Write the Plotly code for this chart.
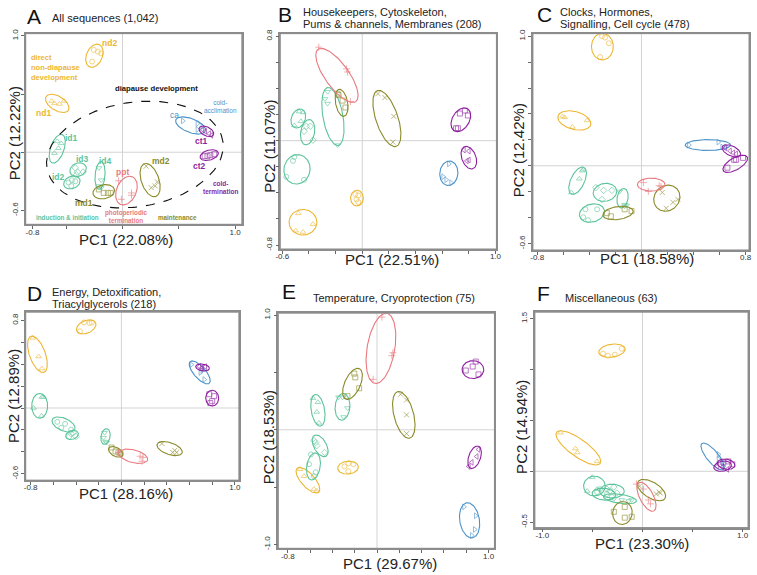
import numpy as np
import plotly.graph_objects as go

FONT = "Liberation Sans, Arial, sans-serif"
W, H = 757, 575

groups = ["nd1", "nd2", "id1", "id2", "id3", "id4", "md1", "md2", "ppt", "ca", "ct1", "ct2"]
group_colors = ["#EDB632", "#EDB632", "#5CC49B", "#5CC49B", "#5CC49B", "#5CC49B",
                "#8A8A2A", "#8A8A2A", "#E8797E", "#4B93CA", "#8E1F9F", "#8E1F9F"]
group_symbols = ["triangle-up-open", "circle-open", "triangle-up-open", "circle-open",
                 "diamond-open", "triangle-down-open", "square-open", "x-thin-open",
                 "cross-thin-open", "triangle-right-open", "triangle-left-open", "square-open"]

panels = ["A", "B", "C", "D", "E", "F"]
panel_titles = [["All sequences (1,042)"],
                ["Housekeepers, Cytoskeleton,", "Pums & channels, Membranes (208)"],
                ["Clocks, Hormones,", "Signalling, Cell cycle (478)"],
                ["Energy, Detoxification,", "Triacylglycerols (218)"],
                ["Temperature, Cryoprotection (75)"],
                ["Miscellaneous (63)"]]
pc1_labels = ["PC1 (22.08%)", "PC1 (22.51%)", "PC1 (18.58%)", "PC1 (28.16%)", "PC1 (29.67%)", "PC1 (23.30%)"]
pc2_labels = ["PC2 (12.22%)", "PC2 (11.07%)", "PC2 (12.42%)", "PC2 (12.89%)", "PC2 (18.53%)", "PC2 (14.94%)"]

# axis ranges and ticks
x_ranges = [[-0.86, 1.06], [-0.615, 1.007], [-0.833, 0.826], [-0.843, 1.035], [-0.885, 1.053], [-1.074, 1.054]]
y_ranges = [[-0.62, 1.02], [-0.83, 0.82], [-0.65, 1.02], [-0.658, 0.874], [-1.034, 1.017], [-0.553, 1.563]]
x_ticks = [[-0.8, -0.5, 0, 0.5, 1.0], np.arange(-0.6, 1.01, 0.2), np.arange(-0.8, 0.81, 0.2),
           np.arange(-0.8, 1.01, 0.2), np.arange(-0.8, 1.01, 0.2), np.arange(-1.0, 1.01, 0.5)]
y_ticks = [[-0.5, 0, 0.5, 1.0], np.arange(-0.8, 0.81, 0.2), np.arange(-0.6, 1.01, 0.2),
           np.arange(-0.6, 0.81, 0.2), np.arange(-1.0, 1.01, 0.5), np.arange(-0.5, 1.51, 0.5)]
x_end_labels = [["-0.8", "1.0"], ["-0.6", "1.0"], ["-0.8", "0.8"], ["-0.8", "1.0"], ["-0.8", "1.0"], ["-1.0", "1.0"]]
y_end_labels = [["-0.6", "1.0"], ["-0.8", "0.8"], ["-0.6", "1.0"], ["-0.6", "0.8"], ["-1.0", "1.0"], ["-0.5", "1.5"]]

# group ellipses: (cx, cy, semi-axis a, semi-axis b, angle deg), in group order
ell_A = [(-0.58, 0.42, 0.115, 0.062, -30), (-0.25, 0.83, 0.105, 0.07, 65), (-0.58, 0.03, 0.13, 0.06, 70),
         (-0.45, -0.26, 0.075, 0.053, 20), (-0.395, -0.15, 0.075, 0.057, 20), (-0.20, -0.20, 0.12, 0.044, 85),
         (-0.167, -0.34, 0.097, 0.06, 10), (0.245, -0.24, 0.15, 0.078, -70), (0.035, -0.33, 0.13, 0.087, 65),
         (0.605, 0.23, 0.14, 0.06, -20), (0.745, 0.18, 0.07, 0.038, -25), (0.77, -0.025, 0.083, 0.043, 15)]
ell_B = [(-0.445, -0.625, 0.104, 0.098, 0), (-0.04, -0.44, 0.06, 0.048, 90), (-0.48, 0.17, 0.075, 0.052, 70),
         (-0.49, -0.22, 0.113, 0.098, 80), (-0.41, 0.065, 0.098, 0.052, 80), (-0.22, 0.185, 0.225, 0.075, -80),
         (-0.155, 0.29, 0.105, 0.045, -80), (0.185, 0.17, 0.225, 0.083, -72), (-0.19, 0.50, 0.245, 0.09, -55),
         (0.65, -0.25, 0.094, 0.068, 85), (0.80, -0.13, 0.09, 0.053, -70), (0.74, 0.16, 0.098, 0.064, 60)]
ell_C = [(-0.515, 0.35, 0.13, 0.069, -15), (-0.30, 0.92, 0.103, 0.084, 90), (-0.49, -0.115, 0.114, 0.053, 65),
         (-0.38, -0.365, 0.098, 0.069, 15), (-0.28, -0.205, 0.091, 0.069, 10), (-0.145, -0.25, 0.076, 0.042, 80),
         (-0.18, -0.365, 0.117, 0.05, 8), (0.195, -0.25, 0.106, 0.095, 45), (0.075, -0.145, 0.106, 0.05, 0),
         (0.51, 0.16, 0.174, 0.042, 0), (0.69, 0.115, 0.076, 0.038, -25), (0.72, 0.015, 0.106, 0.046, 30)]
ell_D = [(-0.74, 0.49, 0.174, 0.07, -71), (-0.31, 0.74, 0.091, 0.057, 25), (-0.72, 0.02, 0.113, 0.07, 90),
         (-0.51, -0.15, 0.109, 0.057, -25), (-0.435, -0.245, 0.057, 0.04, 20), (-0.14, -0.26, 0.072, 0.04, 80),
         (-0.05, -0.40, 0.07, 0.04, -30), (0.425, -0.37, 0.117, 0.054, -20), (0.105, -0.44, 0.13, 0.058, -15),
         (0.69, 0.325, 0.13, 0.052, -50), (0.715, 0.37, 0.061, 0.031, -10), (0.80, 0.09, 0.072, 0.057, 90)]
ell_E = [(-0.62, -0.44, 0.142, 0.06, -47), (-0.26, -0.33, 0.093, 0.056, 5), (-0.53, 0.17, 0.14, 0.06, -80),
         (-0.57, -0.32, 0.12, 0.06, 80), (-0.51, -0.14, 0.105, 0.056, -60), (-0.31, 0.20, 0.117, 0.066, 85),
         (-0.22, 0.40, 0.147, 0.07, 65), (0.24, 0.13, 0.21, 0.088, -75), (0.035, 0.71, 0.31, 0.124, 80),
         (0.83, -0.79, 0.155, 0.088, -80), (0.875, -0.24, 0.103, 0.053, 70), (0.86, 0.525, 0.097, 0.078, 0)]
ell_F = [(-0.64, 0.23, 0.266, 0.087, -35), (-0.305, 1.185, 0.133, 0.063, 8), (-0.48, -0.145, 0.108, 0.097, 0),
         (-0.385, -0.225, 0.118, 0.058, -5), (-0.305, -0.195, 0.123, 0.068, 0), (-0.225, -0.27, 0.167, 0.044, -8),
         (-0.20, -0.41, 0.113, 0.097, 80), (0.09, -0.185, 0.158, 0.078, -31), (0.04, -0.25, 0.158, 0.068, -62),
         (0.70, 0.145, 0.167, 0.058, -50), (0.80, 0.05, 0.089, 0.049, 10), (0.835, 0.07, 0.089, 0.049, -10)]

# replicate samples per group: (x list, y list)
pts_A = [([-0.63, -0.605, -0.56, -0.52], [0.44, 0.42, 0.415, 0.44]),
         ([-0.255, -0.22, -0.19, -0.27], [0.88, 0.865, 0.85, 0.78]),
         ([-0.58, -0.57, -0.605, -0.545], [0.093, 0.034, -0.008, 0.076]),
         ([-0.48, -0.45, -0.42, -0.455], [-0.26, -0.24, -0.25, -0.29]),
         ([-0.42, -0.40, -0.35, -0.41], [-0.135, -0.17, -0.17, -0.195]),
         ([-0.21, -0.19, -0.21, -0.19], [-0.135, -0.24, -0.29, -0.305]),
         ([-0.21, -0.167, -0.13, -0.105], [-0.32, -0.35, -0.35, -0.35]),
         ([0.21, 0.255, 0.29, 0.31], [-0.12, -0.305, -0.29, -0.255]),
         ([-0.035, -0.01, 0.08, 0.08], [-0.245, -0.405, -0.35, -0.37]),
         ([0.535, 0.665, 0.71, 0.665], [0.27, 0.245, 0.22, 0.195]),
         ([0.71, 0.735, 0.77, 0.79], [0.195, 0.18, 0.16, 0.145]),
         ([0.73, 0.755, 0.78, 0.815], [-0.034, -0.034, -0.025, -0.017])]
pts_B = [([-0.48, -0.37, -0.50, -0.445], [-0.557, -0.64, -0.69, -0.70]),
         ([-0.052, -0.03, -0.044, -0.03], [-0.41, -0.42, -0.45, -0.47]),
         ([-0.474, -0.444, -0.51, -0.46], [0.223, 0.216, 0.117, 0.148]),
         ([-0.51, -0.52, -0.57, -0.437], [-0.125, -0.155, -0.277, -0.30]),
         ([-0.42, -0.39, -0.37, -0.437], [0.11, 0.11, 0.004, 0.072]),
         ([-0.26, -0.28, -0.26, -0.185], [0.375, 0.32, 0.284, -0.034]),
         ([-0.185, -0.178, -0.126, -0.148], [0.36, 0.35, 0.254, 0.307]),
         ([0.118, 0.17, 0.237, 0.23], [0.36, 0.33, 0.186, -0.011]),
         ([-0.326, -0.118, -0.11, -0.089], [0.716, 0.55, 0.526, 0.30]),
         ([0.65, 0.607, 0.667, 0.63], [-0.178, -0.276, -0.322, -0.30]),
         ([0.763, 0.80, 0.80, 0.785], [-0.072, -0.08, -0.148, -0.155]),
         ([0.733, 0.77, 0.793, 0.718, 0.704], [0.208, 0.231, 0.193, 0.095, 0.095])]
pts_C = [([-0.606, -0.417, -0.53, -0.59], [0.38, 0.35, 0.30, 0.374]),
         ([-0.303, -0.28, -0.25, -0.318], [1.0, 0.99, 0.946, 0.84]),
         ([-0.447, -0.455, -0.477, -0.538], [-0.03, -0.038, -0.10, -0.206]),
         ([-0.43, -0.34, -0.41, -0.447], [-0.336, -0.336, -0.42, -0.397]),
         ([-0.35, -0.29, -0.227, -0.303], [-0.168, -0.19, -0.19, -0.26]),
         ([-0.167, -0.129, -0.114, -0.129], [-0.198, -0.30, -0.305, -0.313]),
         ([-0.265, -0.235, -0.129, -0.076], [-0.366, -0.39, -0.336, -0.35]),
         ([0.16, 0.19, 0.242, 0.28], [-0.206, -0.328, -0.282, -0.26]),
         ([0.015, 0.053, 0.136, 0.15], [-0.13, -0.198, -0.153, -0.16]),
         ([0.364, 0.59, 0.62, 0.65], [0.16, 0.183, 0.145, 0.145]),
         ([0.644, 0.68, 0.705, 0.727], [0.137, 0.115, 0.10, 0.092]),
         ([0.66, 0.712, 0.727, 0.78], [-0.015, 0.046, 0.046, 0.061])]
pts_D = [([-0.78, -0.73, -0.70], [0.64, 0.47, 0.36]),
         ([-0.33, -0.28, -0.365, -0.26], [0.78, 0.775, 0.70, 0.78]),
         ([-0.70, -0.774, -0.704, -0.687], [0.10, 0.0, -0.072, 0.10]),
         ([-0.565, -0.496, -0.53, -0.443], [-0.126, -0.144, -0.18, -0.198]),
         ([-0.443, -0.426, -0.40, -0.46], [-0.234, -0.225, -0.26, -0.26]),
         ([-0.148, -0.157, -0.139, -0.13], [-0.225, -0.27, -0.306, -0.315]),
         ([-0.087, -0.052, -0.026, -0.009], [-0.36, -0.396, -0.405, -0.414]),
         ([0.357, 0.47, 0.487, 0.452], [-0.324, -0.387, -0.405, -0.405]),
         ([-0.026, 0.165, 0.19, 0.183], [-0.405, -0.44, -0.45, -0.486]),
         ([0.617, 0.696, 0.73, 0.713], [0.396, 0.324, 0.26, 0.342]),
         ([0.687, 0.713, 0.739, 0.704], [0.378, 0.37, 0.378, 0.36]),
         ([0.774, 0.817, 0.80, 0.783], [0.126, 0.108, 0.063, 0.045])]
pts_E = [([-0.69, -0.655, -0.54, -0.566], [-0.345, -0.405, -0.534, -0.517]),
         ([-0.292, -0.257, -0.212, -0.257], [-0.32, -0.293, -0.30, -0.362]),
         ([-0.575, -0.53, -0.54, -0.522], [0.276, 0.24, 0.155, 0.06]),
         ([-0.593, -0.61, -0.55, -0.566], [-0.215, -0.30, -0.37, -0.405]),
         ([-0.566, -0.55, -0.54, -0.47], [-0.095, -0.112, -0.138, -0.198]),
         ([-0.345, -0.31, -0.30, -0.265], [0.284, 0.284, 0.112, 0.19]),
         ([-0.204, -0.195, -0.16, -0.265], [0.49, 0.457, 0.362, 0.293]),
         ([0.212, 0.265, 0.265, 0.265], [0.31, 0.26, 0.13, -0.034]),
         ([0.044, 0.142, 0.133, -0.035], [0.983, 0.672, 0.647, 0.44]),
         ([0.78, 0.885, 0.876, 0.85], [-0.672, -0.75, -0.87, -0.922]),
         ([0.823, 0.85, 0.894, 0.91], [-0.32, -0.284, -0.233, -0.172]),
         ([0.796, 0.858, 0.885, 0.91], [0.517, 0.552, 0.595, 0.483])]
pts_F = [([-0.818, -0.67, -0.65, -0.453], [0.379, 0.223, 0.184, 0.097]),
         ([-0.394, -0.345, -0.276, -0.207], [1.155, 1.136, 1.146, 1.204]),
         ([-0.502, -0.552, -0.453], [-0.058, -0.194, -0.175]),
         ([-0.453, -0.424, -0.355, -0.305], [-0.204, -0.175, -0.223, -0.252]),
         ([-0.355, -0.286, -0.256, -0.325], [-0.175, -0.155, -0.214, -0.194]),
         ([-0.286, -0.207, -0.138, -0.108], [-0.272, -0.282, -0.291, -0.282]),
         ([-0.286, -0.177, -0.177, -0.108], [-0.398, -0.35, -0.456, -0.447]),
         ([-0.03, 0.138, 0.177, 0.167], [-0.146, -0.223, -0.214, -0.204]),
         ([-0.06, 0.059, 0.079, 0.01], [-0.126, -0.282, -0.32, -0.175]),
         ([0.759, 0.759, 0.808, 0.798], [0.165, 0.117, 0.049, 0.087]),
         ([0.749, 0.798, 0.847], [0.049, 0.039, 0.019]),
         ([0.808, 0.857, 0.897], [0.087, 0.097, 0.068])]

ellipses = [ell_A, ell_B, ell_C, ell_D, ell_E, ell_F]
points = [pts_A, pts_B, pts_C, pts_D, pts_E, pts_F]

# diapause development envelope in panel A
diapause_ell = (0.11, -0.02, 0.79, 0.45, 8)

# panel A group labels: text, x, y, color, size, bold
labels_A = [
    ("nd2", -0.12, 0.94, "#EDB632", 8.5, True),
    ("nd1", -0.70, 0.34, "#EDB632", 8.5, True),
    ("id1", -0.45, 0.12, "#5CC49B", 8.5, True),
    ("id3", -0.36, -0.06, "#5CC49B", 8.5, True),
    ("id2", -0.57, -0.21, "#5CC49B", 8.5, True),
    ("id4", -0.15, -0.076, "#5CC49B", 8.5, True),
    ("md1", -0.34, -0.44, "#8A8A2A", 8.5, True),
    ("ppt", 0.0, -0.17, "#E8797E", 8.5, True),
    ("md2", 0.34, -0.076, "#8A8A2A", 8.5, True),
    ("ca", 0.465, 0.32, "#4B93CA", 8.5, False),
    ("ct1", 0.70, 0.093, "#8E1F9F", 8.5, True),
    ("ct2", 0.685, -0.12, "#8E1F9F", 8.5, True),
    ("diapause development", 0.30, 0.55, "#111111", 7.7, True),
    ("cold-<br>acclimation", 0.87, 0.39, "#4B93CA", 6.5, False),
    ("cold-<br>termination", 0.87, -0.30, "#8E1F9F", 6.5, True),
    ("induction &amp; initiation", -0.49, -0.56, "#5CC49B", 6.3, True),
    ("photoperiodic<br>termination", 0.035, -0.55, "#E8797E", 6.3, True),
    ("maintenance", 0.49, -0.56, "#8A8A2A", 6.3, True),
]

# plot box in pixels: left, right, top, bottom
boxes = [(21, 240, 29, 222), (279, 498, 29, 247), (535, 754, 29, 248),
         (21, 237, 311, 481), (277, 496, 312, 550), (537, 753, 311, 529)]
letter_pos = [(20, 12), (275, 10), (537, 10), (20, 292), (279, 290), (537, 292)]
title_pos = [(46, [13]), (300, [7, 19]), (560, [7, 19]), (46, [291, 303]), (310, [297]), (565, [297])]
xtitle_pos = [(123, 237), (392, 258), (651, 257), (123, 495), (390, 565), (646, 545)]
ytitle_pos = [(10, 130), (268, 143), (520, 147), (8, 396), (267, 437), (524, 427)]


def px(x):
    return x / W


def py(y):
    return 1 - y / H


def ellipse(cx, cy, a, b, ang, n=120):
    t = np.linspace(0, 2 * np.pi, n)
    th = np.radians(ang)
    x = cx + a * np.cos(t) * np.cos(th) - b * np.sin(t) * np.sin(th)
    y = cy + a * np.cos(t) * np.sin(th) + b * np.sin(t) * np.cos(th)
    return x, y


fig = go.Figure()
layout = dict(width=W, height=H, margin=dict(l=0, r=0, t=0, b=0),
              paper_bgcolor="white", plot_bgcolor="white", showlegend=False,
              font=dict(family=FONT, color="#222222"))
shapes = []
annotations = []

for i, p in enumerate(panels):
    xa = "x" if i == 0 else f"x{i + 1}"
    ya = "y" if i == 0 else f"y{i + 1}"
    l, r, t, b = boxes[i]

    xt = [float(v) for v in x_ticks[i]]
    yt = [float(v) for v in y_ticks[i]]
    xtext = [x_end_labels[i][0]] + [""] * (len(xt) - 2) + [x_end_labels[i][1]]
    ytext = [y_end_labels[i][0]] + [""] * (len(yt) - 2) + [y_end_labels[i][1]]
    common = dict(showgrid=False, zeroline=False, showline=True, mirror=True,
                  linecolor="#8c8c8c", linewidth=1.5, ticks="outside", ticklen=3,
                  tickcolor="#666666", tickwidth=1, tickfont=dict(size=8, color="#333333"))
    layout["xaxis" if i == 0 else f"xaxis{i + 1}"] = dict(
        domain=[px(l), px(r)], range=x_ranges[i], anchor=ya,
        tickvals=xt, ticktext=xtext, ticklabelstandoff=-4, **common)
    layout["yaxis" if i == 0 else f"yaxis{i + 1}"] = dict(
        domain=[py(b), py(t)], range=y_ranges[i], anchor=xa,
        tickvals=yt, ticktext=ytext, tickangle=-90, **common)

    # cross lines through the origin
    shapes.append(dict(type="line", xref=xa, yref=f"{ya} domain", x0=0, x1=0, y0=0, y1=1,
                       line=dict(color="#d3d3d3", width=1), layer="below"))
    shapes.append(dict(type="line", xref=f"{xa} domain", yref=ya, x0=0, x1=1, y0=0, y1=0,
                       line=dict(color="#d3d3d3", width=1), layer="below"))
    # frame
    shapes.append(dict(type="rect", xref=f"{xa} domain", yref=f"{ya} domain", x0=0, x1=1, y0=0, y1=1,
                       line=dict(color="#8c8c8c", width=1), layer="above"))

    for g in range(len(groups)):
        ex, ey = ellipse(*ellipses[i][g])
        fig.add_trace(go.Scatter(x=ex, y=ey, mode="lines", xaxis=xa, yaxis=ya,
                                 line=dict(color=group_colors[g], width=1.1), hoverinfo="skip"))
        gx, gy = points[i][g]
        fig.add_trace(go.Scatter(x=gx, y=gy, mode="markers", xaxis=xa, yaxis=ya, opacity=0.75,
                                 marker=dict(symbol=group_symbols[g], size=5, color=group_colors[g],
                                             line=dict(width=0.8, color=group_colors[g])),
                                 name=groups[g]))

    if i == 0:
        dx, dy = ellipse(*diapause_ell, n=200)
        fig.add_trace(go.Scatter(x=dx, y=dy, mode="lines", xaxis=xa, yaxis=ya,
                                 line=dict(color="#111111", width=1.1, dash="dash"), hoverinfo="skip"))
        for text, lx, ly, col, size, bold in labels_A:
            annotations.append(dict(x=lx, y=ly, xref=xa, yref=ya, showarrow=False,
                                    text=f"<b>{text}</b>" if bold else text,
                                    font=dict(size=size, color=col), align="center"))
        annotations.append(dict(x=-0.83, y=0.73, xref=xa, yref=ya, showarrow=False, xanchor="left",
                                align="left", text="<b>direct<br>non-diapause<br>development</b>",
                                font=dict(size=7.5, color="#EDB632")))

    # panel letter and title
    lx, ly = letter_pos[i]
    annotations.append(dict(x=px(lx), y=py(ly), xref="paper", yref="paper", showarrow=False,
                            xanchor="left", yanchor="middle", text=p,
                            font=dict(size=21, color="#111111")))
    tx, tys = title_pos[i]
    for line, ty in zip(panel_titles[i], tys):
        annotations.append(dict(x=px(tx), y=py(ty), xref="paper", yref="paper", showarrow=False,
                                xanchor="left", yanchor="middle", text=line,
                                font=dict(size=11, color="#222222")))
    ax, ay = xtitle_pos[i]
    annotations.append(dict(x=px(ax), y=py(ay), xref="paper", yref="paper", showarrow=False,
                            xanchor="center", yanchor="middle", text=pc1_labels[i],
                            font=dict(size=15, color="#222222")))
    bx, by = ytitle_pos[i]
    annotations.append(dict(x=px(bx), y=py(by), xref="paper", yref="paper", showarrow=False,
                            xanchor="center", yanchor="middle", text=pc2_labels[i], textangle=-90,
                            font=dict(size=15, color="#222222")))

layout["shapes"] = shapes
layout["annotations"] = annotations
fig.update_layout(**layout)

# page body margin would shift the figure by 8px
fig.write_html("out.html", config={"displayModeBar": False},
               post_script="document.body.style.margin='0px';")
